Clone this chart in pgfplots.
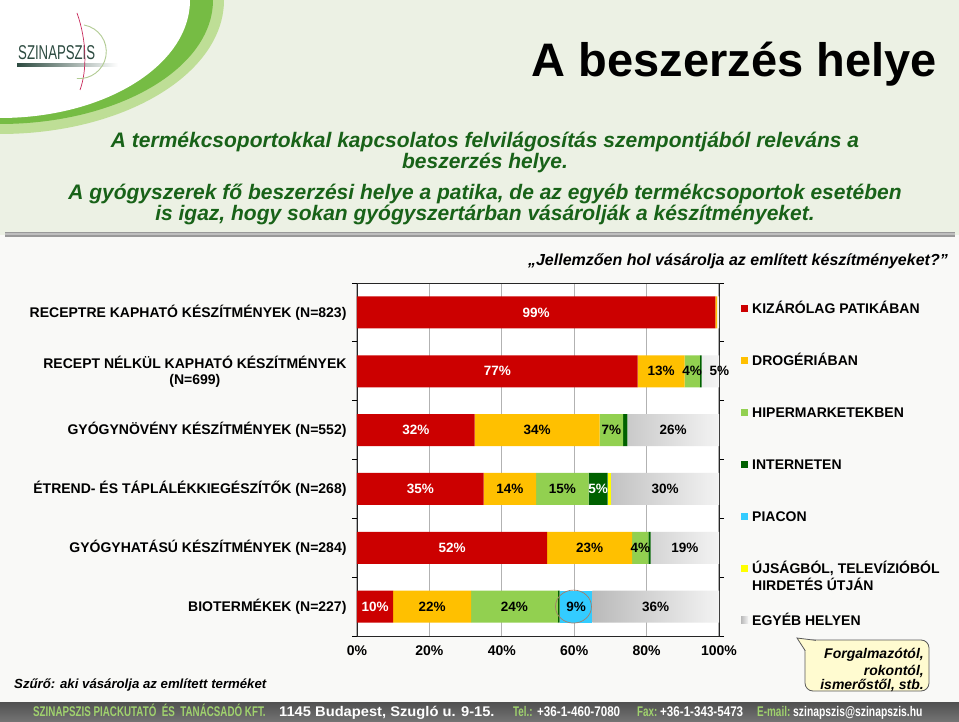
\documentclass[border=0pt]{standalone}
\usepackage{fontspec}
\setmainfont{Liberation Sans}
\usepackage{pgfplots}
\usepackage{pgfplotstable}
\pgfplotsset{compat=1.18}

\definecolor{cred}{RGB}{204,0,0}
\definecolor{cdrog}{RGB}{255,192,0}
\definecolor{chiper}{RGB}{146,208,80}
\definecolor{cnet}{RGB}{0,97,0}
\definecolor{cpiac}{RGB}{51,204,255}
\definecolor{cuj}{RGB}{255,255,0}
\definecolor{cegyL}{RGB}{186,186,186}
\definecolor{cegyR}{RGB}{243,243,243}
\definecolor{dkgreen}{RGB}{24,98,24}
\definecolor{topbg}{RGB}{236,241,228}
\definecolor{lowbg}{RGB}{249,249,247}
\definecolor{sw1}{RGB}{190,222,150}
\definecolor{sw2}{RGB}{118,188,68}
\definecolor{footL}{RGB}{160,210,110}
\definecolor{footT}{RGB}{80,80,80}
\definecolor{footB}{RGB}{115,115,115}
\definecolor{bubble}{RGB}{255,251,208}
\definecolor{logoc}{RGB}{45,75,65}
\definecolor{pinkc}{RGB}{200,40,90}
\definecolor{ringc}{RGB}{165,125,105}

% one table per place of purchase; row 0 = top bar
\pgfplotstableread{
row val lab
0 99   99
1 77.5 77
2 32.5 32
3 35   35
4 52.5 52
5 10   10
}\patika
\pgfplotstableread{
row val lab
0 0.5  0
1 13   13
2 34.5 34
3 14.5 14
4 23.5 23
5 21.5 22
}\drogeria
\pgfplotstableread{
row val lab
0 0    0
1 4.2  4
2 6.5  7
3 14.5 15
4 4.5  4
5 24   24
}\hiper
\pgfplotstableread{
row val lab
0 0   0
1 0.5 0
2 1.2 0
3 5.2 5
4 0.6 0
5 0.5 0
}\internet
\pgfplotstableread{
row val lab
0 0 0
1 0 0
2 0 0
3 0 0
4 0 0
5 9 9
}\piac
\pgfplotstableread{
row val lab
0 0 0
1 0 0
2 0 0
3 1 0
4 0 0
5 0 0
}\ujsag
% dx: label nudge in pt
\pgfplotstableread{
row val lab dx
0 0.5  0  0
1 4.8  5  9
2 25.3 26 0
3 29.8 30 0
4 18.9 19 0
5 35   36 0
}\egyeb

\newcommand{\lf}{\fontsize{14}{16}\selectfont\bfseries}
\newcommand{\bi}{\bfseries\itshape}

\begin{document}
\begin{tikzpicture}[x=1pt,y=1pt]
% background
\fill[lowbg] (0,0) rectangle (959,721);
\fill[topbg] (0,486) rectangle (959,721);
\begin{scope}
\clip (0,0) rectangle (959,721);
\fill[sw1] (0,721) ellipse[x radius=224, y radius=134];
\fill[sw2] (0,721) ellipse[x radius=213, y radius=124];
\fill[white] (0,721) ellipse[x radius=190, y radius=118];
\end{scope}

% logo
\node[anchor=base west, inner sep=0pt, text=logoc] at (18,661)
  {\scalebox{0.66}[1]{\fontsize{20}{20}\selectfont SZINAPSZIS}};
\shade[left color=logoc, right color=white] (17,654.5) rectangle (118,657);
\draw[pinkc, line width=0.7pt] (77,708) .. controls (87,680) and (87,650) .. (80,631);
\draw[sw1!80!gray, line width=0.9pt] (84,696) arc[start angle=80, end angle=-95, radius=27];

% title block
\node[anchor=base east, inner sep=0pt] at (937,644)
  {\fontsize{47}{50}\selectfont\bfseries A beszerzés helye};
\begin{scope}[every node/.style={anchor=base, inner sep=0pt, text=dkgreen,
    font=\fontsize{21}{21}\selectfont\bi}]
\node at (485,573) {A termékcsoportokkal kapcsolatos felvilágosítás szempontjából releváns a};
\node at (485,552) {beszerzés helye.};
\node at (485,521) {A gyógyszerek fő beszerzési helye a patika, de az egyéb termékcsoportok esetében};
\node at (485,500) {is igaz, hogy sokan gyógyszertárban vásárolják a készítményeket.};
\end{scope}
\fill[black!40] (5,484) rectangle (955,489);
\fill[black!25] (5,485.5) rectangle (955,487.5);

\node[anchor=base east, inner sep=0pt] at (948,455)
  {\fontsize{16}{18}\selectfont\bi „Jellemzően hol vásárolja az említett készítményeket?”};

\begin{axis}[
  at={(357pt,85pt)}, anchor=south west,
  scale only axis, width=362pt, height=353pt,
  xbar stacked, bar width=32pt,
  xmin=0, xmax=100, ymin=-0.5, ymax=5.5, y dir=reverse,
  enlargelimits=false,
  axis background/.style={fill=white},
  axis line style={black!85, line width=0.8pt},
  xmajorgrids, grid style={black!30, line width=1.2pt},
  xtick={0,20,40,60,80,100},
  xticklabels={0\%,20\%,40\%,60\%,80\%,100\%},
  ytick={0,1,2,3,4,5},
  yticklabels={
    {RECEPTRE KAPHATÓ KÉSZÍTMÉNYEK (N=823)},
    {RECEPT NÉLKÜL KAPHATÓ KÉSZÍTMÉNYEK\\(N=699)},
    {GYÓGYNÖVÉNY KÉSZÍTMÉNYEK (N=552)},
    {ÉTREND- ÉS TÁPLÁLÉKKIEGÉSZÍTŐK (N=268)},
    {GYÓGYHATÁSÚ KÉSZÍTMÉNYEK (N=284)},
    {BIOTERMÉKEK (N=227)}},
  minor ytick={-0.5,0.5,1.5,2.5,3.5,4.5,5.5},
  major tick length=0pt, minor tick length=5pt, tick align=outside,
  minor tick style={black, line width=0.8pt},
  tick label style={font=\lf, text=black},
  xticklabel style={yshift=-6pt},
  yticklabel style={align=center, xshift=-7pt},
  point meta=explicit symbolic,
  nodes near coords={\ifnum\pgfplotspointmeta>0\relax\pgfplotspointmeta\%\fi},
  every node near coord/.append style={anchor=center,
    font=\fontsize{13.5}{14}\selectfont\bfseries, text=black},
  legend image code/.code={\fill[#1] (0pt,-3.5pt) rectangle (7pt,3.5pt);},
  legend cell align=left,
  legend style={at={(1,1)}, anchor=north west, xshift=22pt, yshift=-20pt,
    draw=none, fill=none, inner sep=0pt, row sep=42pt, column sep=4pt,
    nodes={inner sep=0pt, text height=10pt, text depth=0pt, font=\lf}},
  clip=false,
]
\addplot[fill=cred, draw=none, every node near coord/.append style={text=white}]
  table[x=val, y=row, meta=lab] {\patika};
\addlegendentry{KIZÁRÓLAG PATIKÁBAN}
\addplot[fill=cdrog, draw=none] table[x=val, y=row, meta=lab] {\drogeria};
\addlegendentry{DROGÉRIÁBAN}
\addplot[fill=chiper, draw=none] table[x=val, y=row, meta=lab] {\hiper};
\addlegendentry{HIPERMARKETEKBEN}
\addplot[fill=cnet, draw=none, every node near coord/.append style={text=white}]
  table[x=val, y=row, meta=lab] {\internet};
\addlegendentry{INTERNETEN}
\addplot[fill=cpiac, draw=none] table[x=val, y=row, meta=lab] {\piac};
\addlegendentry{PIACON}
\addplot[fill=cuj, draw=none] table[x=val, y=row, meta=lab] {\ujsag};
\addlegendentry{\begin{tabular}[t]{@{}l@{}}ÚJSÁGBÓL, TELEVÍZIÓBÓL\\HIRDETÉS ÚTJÁN\end{tabular}}
\addplot[left color=cegyL, right color=cegyR, draw=none,
  visualization depends on={\thisrow{dx} \as \dx},
  every node near coord/.append style={xshift=\dx pt}]
  table[x=val, y=row, meta=lab] {\egyeb};
\addlegendentry{EGYÉB HELYEN}
\coordinate (ring) at (axis cs:59.8,5);
\end{axis}
\draw[ringc, line width=0.7pt] (ring) ellipse[x radius=18, y radius=16.5];

% filter note
\node[anchor=base west, inner sep=0pt] at (14,33)
  {\fontsize{13.2}{15}\selectfont\bi Szűrő: aki vásárolja az említett terméket};

% callout
\filldraw[fill=bubble, draw=black!65, line width=0.8pt, rounded corners=8pt] (805,30) rectangle (929,81);
\fill[bubble] (806,69) -- (797,83) -- (817,80.2) -- (812,74) -- cycle;
\draw[black!65, line width=0.8pt] (805.4,70) -- (797,83) -- (816,80.6);
\begin{scope}[every node/.style={anchor=base east, inner sep=0pt,
    font=\fontsize{14}{16}\selectfont\bi}]
\node at (924,63) {Forgalmazótól,};
\node at (924,46) {rokontól,};
\node at (924,32) {ismerőstől, stb.};
\end{scope}

% footer
\shade[top color=footT, bottom color=footB] (0,0) rectangle (959,19);
\begin{scope}[every node/.style={anchor=base west, inner sep=0pt,
    font=\fontsize{14}{15}\selectfont\bfseries}]
\node[text=footL] at (33,5) {\scalebox{0.7}[1]{SZINAPSZIS PIACKUTATÓ\ \ ÉS\ \ TANÁCSADÓ KFT.}};
\node[text=white] at (279,5) {\scalebox{1.05}[1]{1145 Budapest, Szugló u. 9-15.}};
\node[text=footL] at (513,5) {\scalebox{0.7}[1]{Tel.:}};
\node[text=white] at (537,5) {\scalebox{0.83}[1]{+36-1-460-7080}};
\node[text=footL] at (637,5) {\scalebox{0.7}[1]{Fax:}};
\node[text=white] at (660,5) {\scalebox{0.83}[1]{+36-1-343-5473}};
\node[text=footL] at (757,5) {\scalebox{0.71}[1]{E-mail:}};
\node[text=white] at (793,5) {\scalebox{0.74}[1]{szinapszis@szinapszis.hu}};
\end{scope}

\pgfresetboundingbox
\useasboundingbox (0,0) rectangle (959,721);
\end{tikzpicture}
\end{document}
